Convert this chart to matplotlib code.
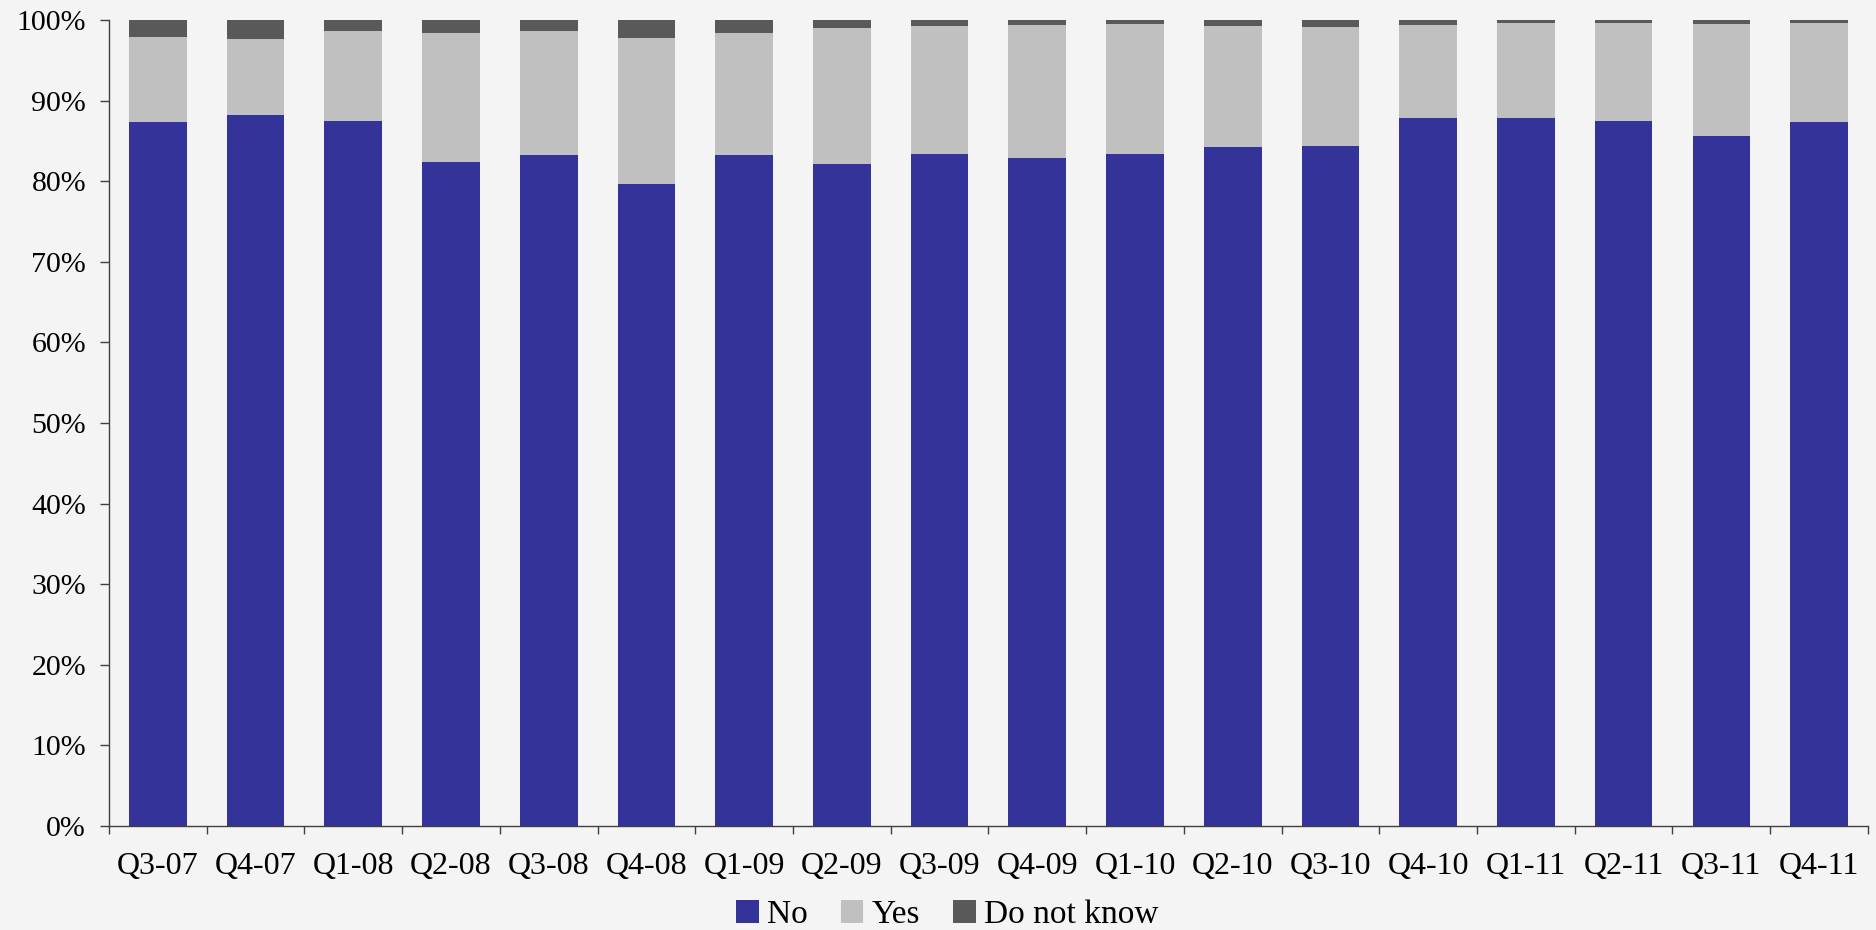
import numpy as np
import matplotlib.pyplot as plt
from matplotlib.ticker import FuncFormatter

# quarters and shares (%)
quarters = ["Q3-07", "Q4-07", "Q1-08", "Q2-08", "Q3-08", "Q4-08", "Q1-09", "Q2-09", "Q3-09",
            "Q4-09", "Q1-10", "Q2-10", "Q3-10", "Q4-10", "Q1-11", "Q2-11", "Q3-11", "Q4-11"]
no_vals = [87.4, 88.2, 87.5, 82.4, 83.3, 79.6, 83.3, 82.1, 83.4,
           82.9, 83.4, 84.2, 84.4, 87.8, 87.9, 87.5, 85.6, 87.4]
yes_vals = [10.5, 9.4, 11.1, 16.0, 15.3, 18.2, 15.1, 16.9, 15.9,
            16.5, 16.1, 15.1, 14.7, 11.6, 11.7, 12.1, 13.9, 12.2]
dk_vals = [2.1, 2.4, 1.4, 1.6, 1.4, 2.2, 1.6, 1.0, 0.7,
           0.6, 0.5, 0.7, 0.9, 0.6, 0.4, 0.4, 0.5, 0.4]

bg = "#f4f4f4"
plt.rcParams["font.family"] = ["Liberation Serif", "DejaVu Serif"]

fig = plt.figure(figsize=(18.76, 9.30), dpi=100, facecolor=bg)
ax = fig.add_axes([0.0581, 0.1118, 0.9376, 0.8667], facecolor=bg)

x = np.arange(len(quarters))
no = np.array(no_vals)
yes = np.array(yes_vals)
dk = np.array(dk_vals)
w = 0.59
ax.bar(x, no, w, color="#333399", label="No")
ax.bar(x, yes, w, bottom=no, color="#c0c0c0", label="Yes")
ax.bar(x, dk, w, bottom=no + yes, color="#595959", label="Do not know")

ax.set_xlim(-0.5, len(quarters) - 0.5)
ax.set_ylim(0, 100)
ax.set_yticks(np.arange(0, 101, 10))
ax.yaxis.set_major_formatter(FuncFormatter(lambda v, p: f"{v:.0f}%"))

# ticks on category borders, labels in the middle
ax.set_xticks(np.arange(-0.5, len(quarters), 1))
ax.set_xticklabels([])
ax.set_xticks(x, minor=True)
ax.set_xticklabels(quarters, minor=True)
ax.tick_params(axis="x", which="major", length=6, width=1, color="#404040")
ax.tick_params(axis="x", which="minor", length=0, pad=18.5, labelsize=23)
ax.tick_params(axis="y", length=6.5, width=1, color="#404040", labelsize=21.5, pad=10)

for s in ["top", "right"]:
    ax.spines[s].set_visible(False)
for s in ["left", "bottom"]:
    ax.spines[s].set_color("#404040")
    ax.spines[s].set_linewidth(1)

fig.legend(loc="center", bbox_to_anchor=(0.505, 0.0165), ncol=3, frameon=False,
           fontsize=24, handlelength=0.67, handleheight=0.67, handletextpad=0.25,
           columnspacing=1.0)

fig.savefig("out.png", dpi=100, facecolor=bg)
